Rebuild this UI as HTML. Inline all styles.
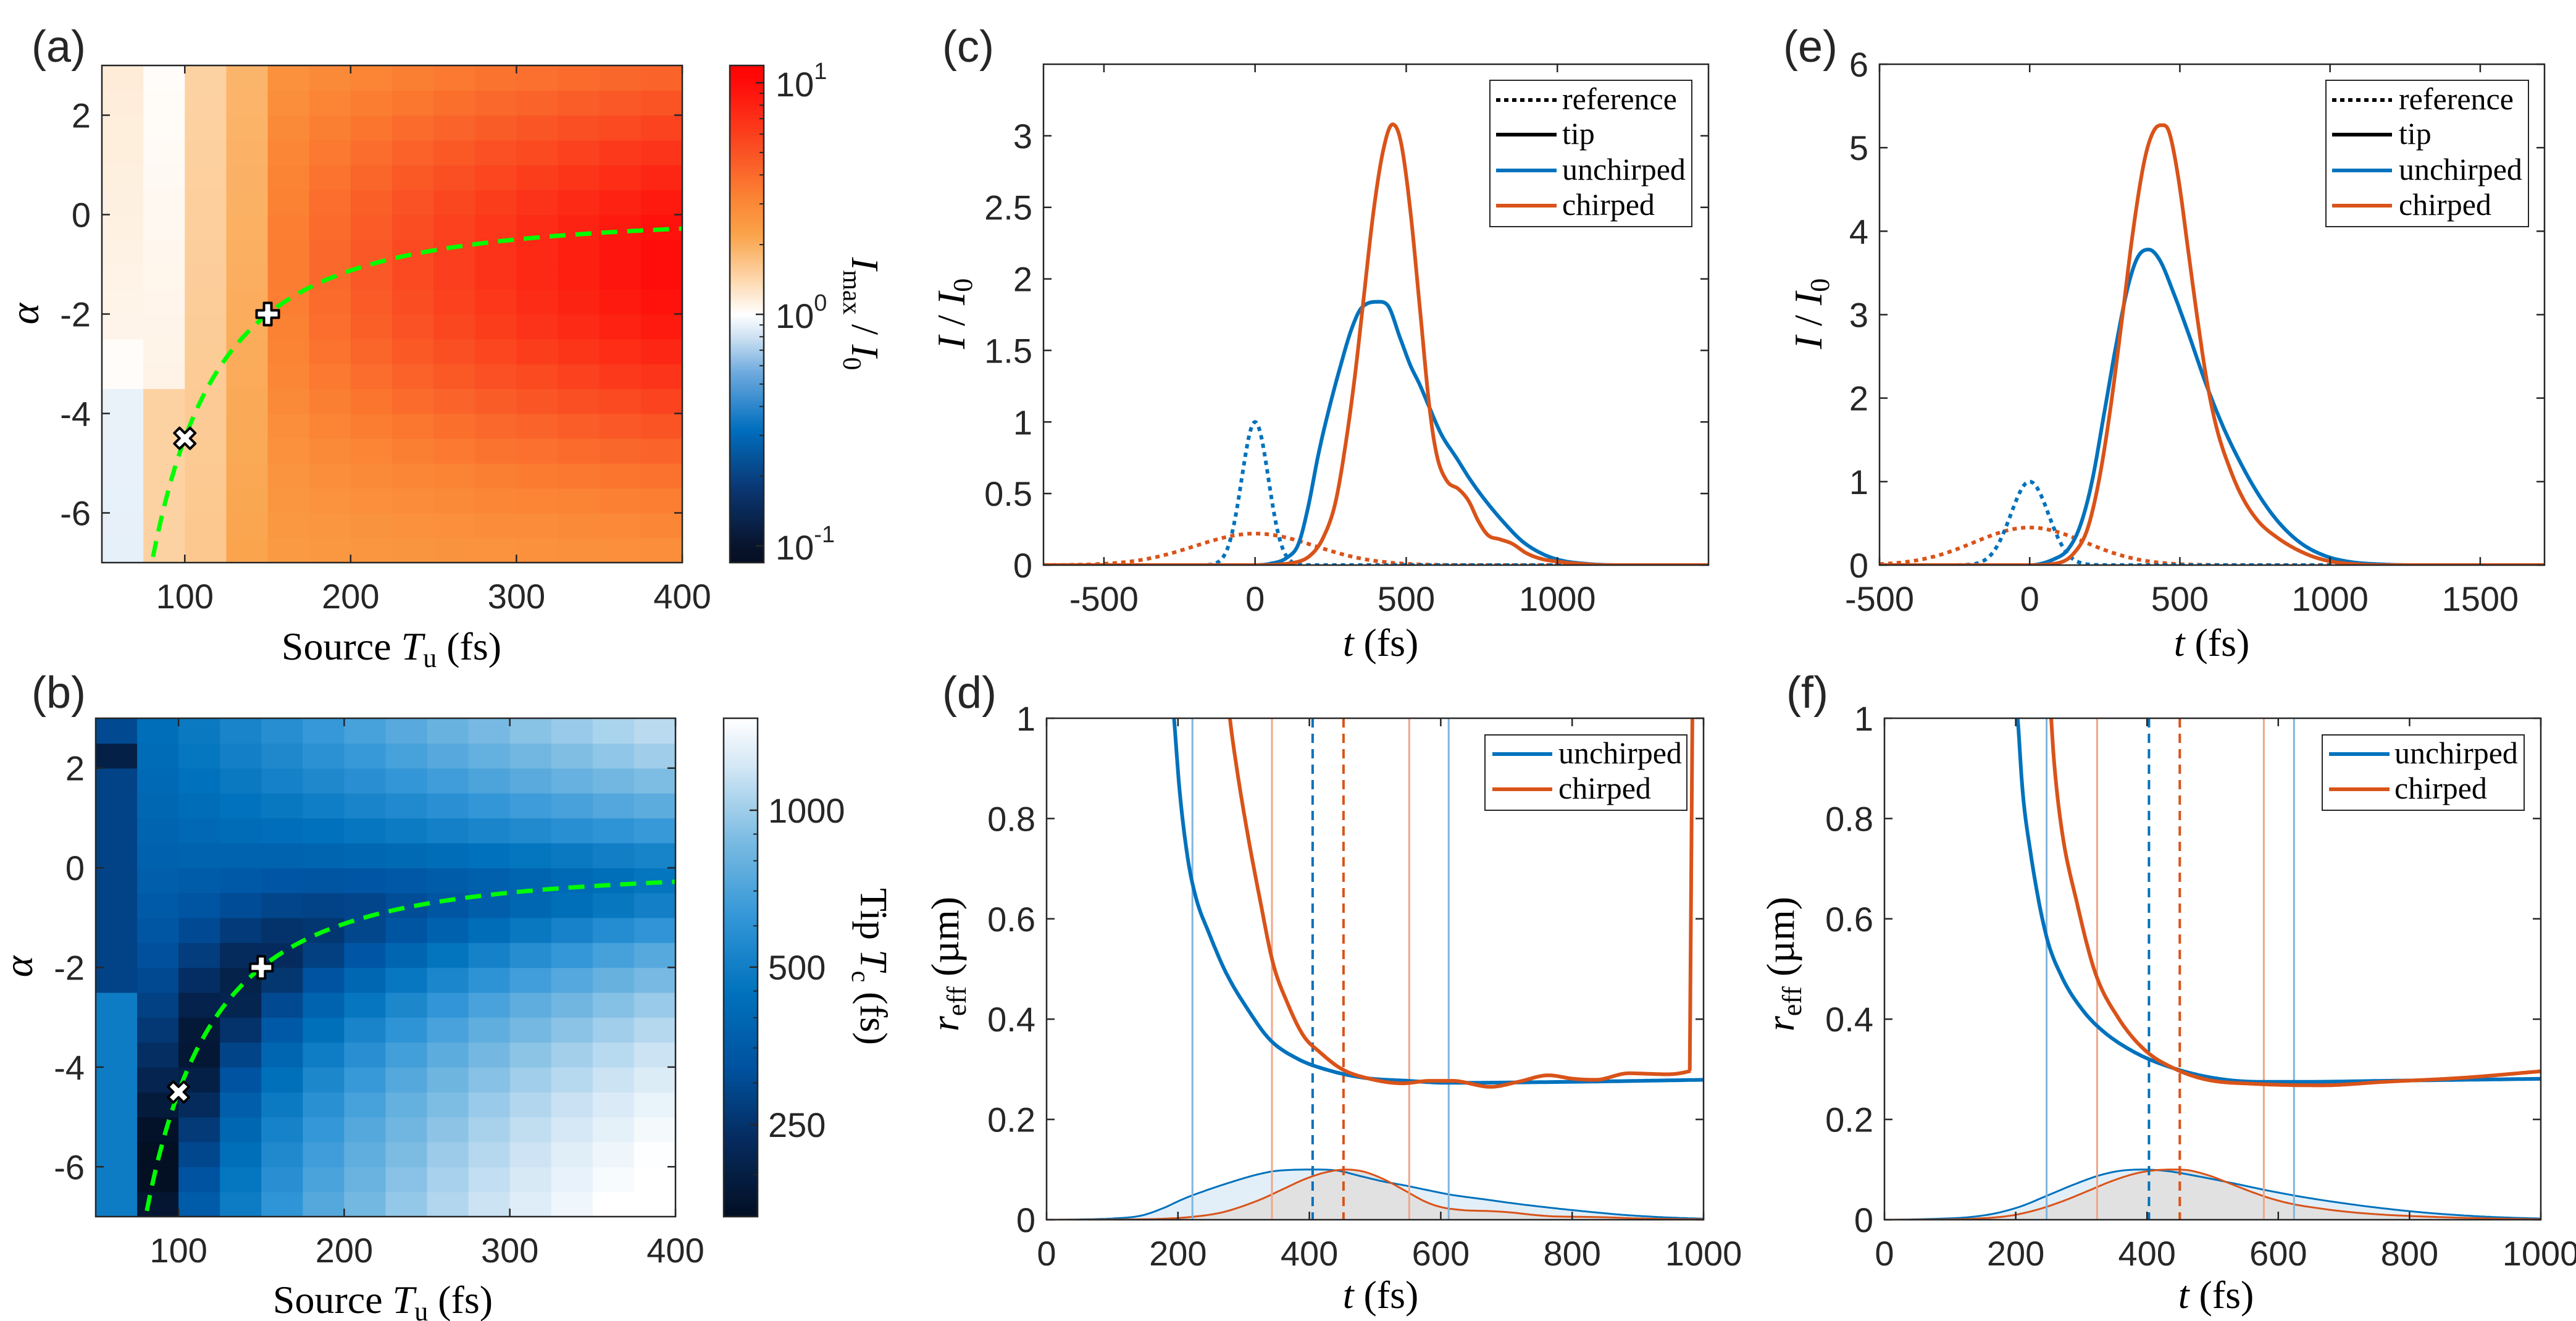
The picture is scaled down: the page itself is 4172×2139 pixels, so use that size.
<!DOCTYPE html>
<html><head><meta charset="utf-8">
<style>
html,body{margin:0;padding:0;background:#fff;}
svg{display:block;}
text{font-family:"Liberation Sans",sans-serif;fill:#262626;}
.s{font-family:"Liberation Serif",serif;fill:#000;}
</style></head>
<body>
<svg id="fig" width="4172" height="2139" viewBox="0 0 4172 2139"></svg>
<script>
var out=[];
function mono(P){var n=P.length,xs=P.map(function(p){return p[0]}),ys=P.map(function(p){return p[1]}),d=[],m=[],i;
for(i=0;i<n-1;i++)d.push((ys[i+1]-ys[i])/(xs[i+1]-xs[i]));
m[0]=d[0];m[n-1]=d[n-2];
for(i=1;i<n-1;i++){m[i]=(d[i-1]*d[i]<=0)?0:(d[i-1]+d[i])/2;}
for(i=0;i<n-1;i++){if(d[i]==0){m[i]=0;m[i+1]=0;continue;}var a=m[i]/d[i],b=m[i+1]/d[i],s=a*a+b*b;if(s>9){var t=3/Math.sqrt(s);m[i]=t*a*d[i];m[i+1]=t*b*d[i];}}
return function(t){if(t<=xs[0])return ys[0];if(t>=xs[n-1])return ys[n-1];var i=0;while(t>xs[i+1])i++;var h=xs[i+1]-xs[i],u=(t-xs[i])/h;
return (2*u*u*u-3*u*u+1)*ys[i]+(u*u*u-2*u*u+u)*h*m[i]+(-2*u*u*u+3*u*u)*ys[i+1]+(u*u*u-u*u)*h*m[i+1];};}
var cid=0;
function axes(o){o.X=function(v){return o.x0+(v-o.xmin)/(o.xmax-o.xmin)*(o.x1-o.x0)};o.Y=function(v){return o.y1-(v-o.ymin)/(o.ymax-o.ymin)*(o.y1-o.y0)};
o.cid='c'+(cid++);out.push('<clipPath id="'+o.cid+'"><rect x="'+o.x0+'" y="'+o.y0+'" width="'+(o.x1-o.x0)+'" height="'+(o.y1-o.y0)+'"/></clipPath>');return o;}
function curve(o,f,t0,t1,n,attrs){var p=[];for(var i=0;i<=n;i++){var t=t0+(t1-t0)*i/n;p.push(o.X(t).toFixed(1)+','+o.Y(f(t)).toFixed(1));}
return '<polyline clip-path="url(#'+o.cid+')" fill="none" stroke-linejoin="round" points="'+p.join(' ')+'" '+attrs+'/>';}
function area(o,f,t0,t1,n,fill){var p=[o.X(t0).toFixed(1)+','+o.Y(0)];for(var i=0;i<=n;i++){var t=t0+(t1-t0)*i/n;p.push(o.X(t).toFixed(1)+','+o.Y(f(t)).toFixed(1));}p.push(o.X(t1).toFixed(1)+','+o.Y(0));
return '<polygon clip-path="url(#'+o.cid+')" stroke="none" fill="'+fill+'" points="'+p.join(' ')+'"/>';}
function frame(o,xt,xl,yt,yl){var s='',L=13,i;
s+='<rect x="'+o.x0+'" y="'+o.y0+'" width="'+(o.x1-o.x0)+'" height="'+(o.y1-o.y0)+'" fill="none" stroke="#262626" stroke-width="2.5"/>';
for(i=0;i<xt.length;i++){var x=o.X(xt[i]);s+='<path d="M'+x+' '+o.y1+'v-'+L+'M'+x+' '+o.y0+'v'+L+'" stroke="#262626" stroke-width="2.5"/>';
if(xl[i]!=='')s+='<text x="'+x+'" y="'+(o.y1+74)+'" font-size="56" text-anchor="middle">'+xl[i]+'</text>';}
for(i=0;i<yt.length;i++){var y=o.Y(yt[i]);s+='<path d="M'+o.x0+' '+y+'h'+L+'M'+o.x1+' '+y+'h-'+L+'" stroke="#262626" stroke-width="2.5"/>';
if(yl[i]!=='')s+='<text x="'+(o.x0-18)+'" y="'+(y+20)+'" font-size="56" text-anchor="end">'+yl[i]+'</text>';}
return s;}
function lerpc(stops,p){if(p<=stops[0][0]){var c0=stops[0][1];return 'rgb('+c0[0]+','+c0[1]+','+c0[2]+')';}for(var i=0;i<stops.length-1;i++){if(p<=stops[i+1][0]){var u=(p-stops[i][0])/(stops[i+1][0]-stops[i][0]),a=stops[i][1],b=stops[i+1][1];
return 'rgb('+Math.round(a[0]+(b[0]-a[0])*u)+','+Math.round(a[1]+(b[1]-a[1])*u)+','+Math.round(a[2]+(b[2]-a[2])*u)+')';}}var c=stops[stops.length-1][1];return 'rgb('+c[0]+','+c[1]+','+c[2]+')';}
var cmA=[[-1.1,[5,12,30]],[-1,[8,20,45]],[-0.75,[10,55,115]],[-0.5,[0,110,190]],[-0.25,[110,170,222]],[-0.1,[205,225,242]],[0,[255,255,255]],[0.15,[253,215,172]],[0.35,[250,162,72]],[0.5,[251,132,52]],[0.7,[250,82,36]],[1.0,[255,12,10]],[1.1,[255,0,0]]];
var cmB=[[0,[3,15,35]],[0.15,[5,42,92]],[0.3,[0,82,160]],[0.45,[0,114,189]],[0.6,[50,150,215]],[0.75,[120,186,226]],[0.9,[210,230,245]],[1,[255,255,255]]];
// ---------- panel A ----------
var A=axes({x0:165,x1:1105,y0:106,y1:911,xmin:50,xmax:400,ymin:-7,ymax:3});
function logvA(c,r){var a=-7+(r+0.5)*0.5,Tu=62.5+25*c;
 if(c==0){if(a>-2.5)return 0.07-(2.75-a)*0.006; if(a>-3.5)return 0.01; return -0.05+(a+7)*0.002;}
 if(c==1){if(a>-3.5)return 0.01+(2.75-a)*0.006; return 0.17;}
 if(c==2)return 0.17+(2.75-a)*0.004;
 if(c==3)return 0.28+(2.75-a)*0.006;
 var s=Math.pow(Math.min(1,(c-3)/10),0.6),h=Math.exp(-Math.pow((a+1)/4,2));return 0.37+0.63*s*h;}
var s='';
for(var c=0;c<14;c++)for(var r=0;r<20;r++){var x=A.X(50+25*c),y=A.Y(-7+0.5*(r+1));
 s+='<rect x="'+x.toFixed(1)+'" y="'+y.toFixed(1)+'" width="'+(A.X(75)-A.X(50)+0.8).toFixed(1)+'" height="'+(A.Y(0)-A.Y(0.5)+0.8).toFixed(1)+'" fill="'+lerpc(cmA,logvA(c,r))+'"/>';}
out.push(s);
function green(o){return curve(o,function(t){return -45000/(t*t)},78,400,200,'stroke="#00ff00" stroke-width="7" stroke-dasharray="26 16"');}
out.push(green(A));
function plus(x,y){return '<path d="M'+(x-6)+' '+(y-18)+'h12v12h12v12h-12v12h-12v-12h-12v-12h12z" fill="#fff" stroke="#000" stroke-width="4" stroke-linejoin="round"/>';}
function cross(x,y){return '<g transform="translate('+x+','+y+') rotate(45)"><path d="M-6 -18h12v12h12v12h-12v12h-12v-12h-12v-12h12z" fill="#fff" stroke="#000" stroke-width="4" stroke-linejoin="round"/></g>';}
out.push(plus(A.X(150),A.Y(-2)),cross(A.X(100),A.Y(-4.5)));
out.push(frame(A,[100,200,300,400],['100','200','300','400'],[-6,-4,-2,0,2],['-6','-4','-2','0','2']));
s='';for(var i=0;i<200;i++){var y0=106+(911-106)*i/200,y1=y0+(911-106)/200+1,L=(509-(y0+2))/375;s+='<rect x="1182" y="'+y0.toFixed(1)+'" width="55" height="'+(y1-y0).toFixed(1)+'" fill="'+lerpc(cmA,L)+'"/>';}
s+='<rect x="1182" y="106" width="55" height="805" fill="none" stroke="#262626" stroke-width="2.5"/>';
[[134,1],[509,0],[884,-1]].forEach(function(t){s+='<path d="M1237 '+t[0]+'h-13" stroke="#262626" stroke-width="2.5"/><text x="1256" y="'+(t[0]+22)+'" font-size="56">10<tspan font-size="38" dy="-28">'+t[1]+'</tspan></text>';});
[2,3,4,5,6,7,8,9].forEach(function(m){var l=Math.log10(m);[0,-1].forEach(function(d){var y=509-375*(d+l);if(y>108)s+='<path d="M1237 '+y.toFixed(1)+'h-7" stroke="#262626" stroke-width="2"/>';});});
s+='<text class="s" transform="translate(1380,508) rotate(90)" font-size="62" text-anchor="middle"><tspan font-style="italic">I</tspan><tspan font-size="42" dy="14">max</tspan><tspan dy="-14"> / </tspan><tspan font-style="italic">I</tspan><tspan font-size="42" dy="14">0</tspan></text>';
out.push(s);
out.push('<text x="51" y="100" font-size="72">(a)</text>');
out.push('<text class="s" x="634" y="1068" font-size="64" text-anchor="middle">Source <tspan font-style="italic">T</tspan><tspan font-size="44" dy="12">u</tspan><tspan dy="-12"> (fs)</tspan></text>');
out.push('<text class="s" transform="translate(62,508) rotate(-90)" font-size="66" font-style="italic" text-anchor="middle">α</text>');
// ---------- panel B ----------
var B=axes({x0:155,x1:1094,y0:1163,y1:1970,xmin:50,xmax:400,ymin:-7,ymax:3});
function TB(c,r){var a=-7+(r+0.5)*0.5,Tu=62.5+25*c;
 if(c==0){if(a>2.5)return 300;if(a>2)return 205;if(a>-2.5)return 285;return 490;}
 var cur=-45000/(Tu*Tu),d=a-cur,de=d/(1+Math.abs(d)/6),Tb=170+(Tu-100)*1.0;if(Tb<160)Tb=160;
 var k=1.28*de*Tu;return Math.sqrt(Tb*Tb+k*k);}
s='';var lb0=Math.log10(166),lb1=Math.log10(1502);
for(var c=0;c<14;c++)for(var r=0;r<20;r++){var x=B.X(50+25*c),y=B.Y(-7+0.5*(r+1));var p=(Math.log10(TB(c,r))-lb0)/(lb1-lb0);
 s+='<rect x="'+x.toFixed(1)+'" y="'+y.toFixed(1)+'" width="'+(B.X(75)-B.X(50)+0.8).toFixed(1)+'" height="'+(B.Y(0)-B.Y(0.5)+0.8).toFixed(1)+'" fill="'+lerpc(cmB,p)+'"/>';}
out.push(s);
out.push(green(B));
out.push(plus(B.X(150),B.Y(-2)),cross(B.X(100),B.Y(-4.5)));
out.push(frame(B,[100,200,300,400],['100','200','300','400'],[-6,-4,-2,0,2],['-6','-4','-2','0','2']));
s='';for(var i=0;i<200;i++){var y0=1163+(1970-1163)*i/200,y1=y0+(1970-1163)/200+1,L=3+(1312-(y0+2))/844;s+='<rect x="1172" y="'+y0.toFixed(1)+'" width="55" height="'+(y1-y0).toFixed(1)+'" fill="'+lerpc(cmB,(L-lb0)/(lb1-lb0))+'"/>';}
s+='<rect x="1172" y="1163" width="55" height="807" fill="none" stroke="#262626" stroke-width="2.5"/>';
[[1312,'1000'],[1566,'500'],[1821,'250']].forEach(function(t){s+='<path d="M1227 '+t[0]+'h-13" stroke="#262626" stroke-width="2.5"/><text x="1244" y="'+(t[0]+20)+'" font-size="56">'+t[1]+'</text>';});
[300,350,400,450,600,700,800,900,200].forEach(function(v){var y=1312-844*(Math.log10(v)-3);s+='<path d="M1227 '+y.toFixed(1)+'h-7" stroke="#262626" stroke-width="2"/>';});
s+='<text class="s" transform="translate(1394,1565) rotate(90)" font-size="62" text-anchor="middle">Tip <tspan font-style="italic">T</tspan><tspan font-size="42" dy="14">c</tspan><tspan dy="-14"> (fs)</tspan></text>';
out.push(s);
out.push('<text x="51" y="1146" font-size="72">(b)</text>');
out.push('<text class="s" x="620" y="2126" font-size="64" text-anchor="middle">Source <tspan font-style="italic">T</tspan><tspan font-size="44" dy="12">u</tspan><tspan dy="-12"> (fs)</tspan></text>');
out.push('<text class="s" transform="translate(52,1565) rotate(-90)" font-size="66" font-style="italic" text-anchor="middle">α</text>');
// ---------- data ----------
var BL='#0072BD',OR='#D95319';
var cU=mono([[-700,0],[0,0],[50,0.01],[104,0.05],[144,0.15],[176,0.41],[209,0.77],[241,1.06],[281,1.38],[321,1.66],[353,1.80],[409,1.84],[437,1.82],[481,1.58],[513,1.40],[545,1.26],[577,1.10],[617,0.91],[666,0.75],[714,0.59],[770,0.43],[818,0.31],[882,0.17],[946,0.083],[1010,0.034],[1091,0.01],[1203,0],[1500,0]]);
var cC=mono([[-700,0],[0,0],[120,0.014],[184,0.07],[225,0.19],[265,0.43],[297,0.81],[329,1.30],[361,1.90],[393,2.49],[425,2.91],[455,3.08],[481,2.97],[513,2.49],[545,1.80],[577,1.10],[601,0.77],[634,0.59],[674,0.53],[706,0.45],[738,0.31],[770,0.21],[810,0.18],[850,0.15],[898,0.083],[946,0.044],[1002,0.024],[1083,0.008],[1163,0],[1500,0]]);
var eU=mono([[-500,0],[0,0],[80,0.07],[128,0.19],[168,0.47],[208,1.01],[248,1.82],[288,2.64],[328,3.35],[360,3.69],[396,3.78],[432,3.66],[480,3.25],[528,2.78],[584,2.20],[640,1.69],[704,1.21],[768,0.81],[832,0.50],[904,0.26],[984,0.11],[1064,0.04],[1184,0.007],[1300,0],[1720,0]]);
var eC=mono([[-500,0],[0,0],[88,0.02],[144,0.13],[192,0.43],[232,1.04],[272,1.96],[312,3.08],[344,4.0],[384,4.88],[416,5.22],[442,5.27],[464,5.19],[496,4.61],[528,3.76],[560,2.91],[592,2.16],[624,1.62],[664,1.18],[704,0.84],[760,0.53],[824,0.33],[904,0.16],[984,0.058],[1104,0.007],[1200,0],[1720,0]]);
function g(A0,s){return function(t){return A0*Math.exp(-t*t/(2*s*s))};}
function legend4(x0,y0,w,h,rows,lx0,lx1,tx){var s='<rect x="'+x0+'" y="'+y0+'" width="'+w+'" height="'+h+'" fill="#fff" stroke="#262626" stroke-width="2"/>';
 var items=[['reference','#000','7 6'],['tip','#000',''],['unchirped',BL,''],['chirped',OR,'']];
 for(var i=0;i<4;i++){var y=rows[i];s+='<path d="M'+lx0+' '+y+'H'+lx1+'" stroke="'+items[i][1]+'" stroke-width="6"'+(items[i][2]?' stroke-dasharray="'+items[i][2]+'"':'')+'/>';
 s+='<text class="s" x="'+tx+'" y="'+(y+15)+'" font-size="50">'+items[i][0]+'</text>';}return s;}
function legend2(x0,y0,w,h,rows,lx0,lx1,tx){var s='<rect x="'+x0+'" y="'+y0+'" width="'+w+'" height="'+h+'" fill="#fff" stroke="#262626" stroke-width="2"/>';
 var items=[['unchirped',BL],['chirped',OR]];
 for(var i=0;i<2;i++){var y=rows[i];s+='<path d="M'+lx0+' '+y+'H'+lx1+'" stroke="'+items[i][1]+'" stroke-width="6"/><text class="s" x="'+tx+'" y="'+(y+15)+'" font-size="50">'+items[i][0]+'</text>';}return s;}
function Ilabel(x,y){return '<text class="s" transform="translate('+x+','+y+') rotate(-90)" font-size="64" text-anchor="middle"><tspan font-style="italic">I</tspan> / <tspan font-style="italic">I</tspan><tspan font-size="44" dy="12">0</tspan></text>';}
function Rlabel(x,y){return '<text class="s" transform="translate('+x+','+y+') rotate(-90)" font-size="64" text-anchor="middle"><tspan font-style="italic">r</tspan><tspan font-size="44" dy="12">eff</tspan><tspan dy="-12"> (µm)</tspan></text>';}
function tlabel(x,y){return '<text class="s" x="'+x+'" y="'+y+'" font-size="64" text-anchor="middle"><tspan font-style="italic">t</tspan> (fs)</text>';}
// ---------- panel C ----------
var C=axes({x0:1690,x1:2767,y0:104,y1:915,xmin:-700,xmax:1500,ymin:0,ymax:3.5});
out.push(curve(C,g(0.22,198),-700,1500,300,'stroke="'+OR+'" stroke-width="6" stroke-dasharray="7 7"'));
out.push(curve(C,g(1,44),-700,1500,600,'stroke="'+BL+'" stroke-width="6" stroke-dasharray="7 7"'));
out.push(curve(C,cU,-700,1500,600,'stroke="'+BL+'" stroke-width="6"'));
out.push(curve(C,cC,-700,1500,600,'stroke="'+OR+'" stroke-width="6"'));
out.push(frame(C,[-500,0,500,1000],['-500','0','500','1000'],[0,0.5,1,1.5,2,2.5,3],['0','0.5','1','1.5','2','2.5','3']));
out.push(legend4(2413,130,327,237,[162,218,276,333],2423,2521,2530));
out.push('<text x="1526" y="100" font-size="72">(c)</text>',Ilabel(1562,508),tlabel(2236,1062));
// ---------- panel E ----------
var E=axes({x0:3044,x1:4121,y0:104,y1:915,xmin:-500,xmax:1714,ymin:0,ymax:6});
out.push(curve(E,g(0.45,185),-500,1714,300,'stroke="'+OR+'" stroke-width="6" stroke-dasharray="7 7"'));
out.push(curve(E,g(1,63),-500,1714,600,'stroke="'+BL+'" stroke-width="6" stroke-dasharray="7 7"'));
out.push(curve(E,eU,-500,1714,600,'stroke="'+BL+'" stroke-width="6"'));
out.push(curve(E,eC,-500,1714,600,'stroke="'+OR+'" stroke-width="6"'));
out.push(frame(E,[-500,0,500,1000,1500],['-500','0','500','1000','1500'],[0,1,2,3,4,5,6],['0','1','2','3','4','5','6']));
out.push(legend4(3767,130,328,237,[162,218,276,333],3777,3874,3885));
out.push('<text x="2888" y="100" font-size="72">(e)</text>',Ilabel(2950,508),tlabel(3582,1062));
// ---------- panel D ----------
var D=axes({x0:1695,x1:2759,y0:1163,y1:1975,xmin:0,xmax:1000,ymin:0,ymax:1});
function env(o,fu,fc,pu,pc,vl){var s='';
 s+=area(o,function(t){return fu(t)/pu*0.1},0,1000,300,'#e3eff8');
 s+=area(o,function(t){return fc(t)/pc*0.1},0,1000,300,'#e2e1e1');
 s+=curve(o,function(t){return fu(t)/pu*0.1},0,1000,300,'stroke="'+BL+'" stroke-width="3"');
 s+=curve(o,function(t){return fc(t)/pc*0.1},0,1000,300,'stroke="'+OR+'" stroke-width="3"');
 vl.forEach(function(v){var x=o.X(v[0]);s+='<path d="M'+x.toFixed(1)+' '+o.y0+'V'+o.y1+'" stroke="'+v[1]+'" stroke-width="'+v[2]+'"'+(v[3]?' stroke-dasharray="'+v[3]+'"':'')+'/>';});
 return s;}
out.push(env(D,cU,cC,1.84,3.08,[[222,'#80b5dd',3],[612,'#80b5dd',3],[343,'#eea78a',3],[552,'#eea78a',3],[405,BL,4,'15 10'],[452,OR,4,'15 10']]));
var dU=mono([[150,1.6],[194,1.0],[202,0.862],[215,0.72],[227,0.644],[248,0.569],[273,0.493],[307,0.418],[340,0.359],[382,0.321],[424,0.300],[483,0.283],[550,0.277],[609,0.273],[800,0.275],[1000,0.279]]);
var dC=mono([[260,1.25],[279,1.0],[290,0.896],[307,0.762],[324,0.644],[345,0.51],[366,0.434],[391,0.367],[416,0.334],[450,0.300],[492,0.281],[542,0.272],[584,0.277],[617,0.277],[676,0.265],[718,0.275],[764,0.288],[802,0.281],[836,0.279],[886,0.292],[945,0.290],[978,0.296],[980,0.297]]);
out.push(curve(D,dU,150,1000,500,'stroke="'+BL+'" stroke-width="6"'));
out.push(curve(D,dC,260,980,500,'stroke="'+OR+'" stroke-width="6"'));
out.push('<path d="M'+D.X(979).toFixed(1)+' '+D.Y(0.297).toFixed(1)+'L'+D.X(983).toFixed(1)+' '+D.y0+'" stroke="'+OR+'" stroke-width="6" fill="none"/>');
out.push(frame(D,[0,200,400,600,800,1000],['0','200','400','600','800','1000'],[0,0.2,0.4,0.6,0.8,1],['0','0.2','0.4','0.6','0.8','1']));
out.push(legend2(2405,1190,327,122,[1221,1278],2417,2514,2524));
out.push('<text x="1526" y="1146" font-size="72">(d)</text>',Rlabel(1552,1561),tlabel(2236,2118));
// ---------- panel F ----------
var F=axes({x0:3052,x1:4115,y0:1163,y1:1975,xmin:0,xmax:1000,ymin:0,ymax:1});
out.push(env(F,eU,eC,3.78,5.27,[[247,'#80b5dd',3],[624,'#80b5dd',3],[324,'#eea78a',3],[578,'#eea78a',3],[403,BL,4,'15 10'],[450,OR,4,'15 10']]));
var fU=mono([[160,1.6],[203,1.0],[210,0.862],[222,0.737],[246,0.569],[270,0.485],[302,0.418],[333,0.376],[381,0.334],[436,0.304],[500,0.283],[571,0.275],[643,0.275],[762,0.277],[1000,0.281]]);
var fC=mono([[245,1.2],[254,1.0],[258,0.92],[270,0.779],[294,0.628],[321,0.493],[357,0.401],[397,0.338],[444,0.300],[492,0.279],[563,0.271],[666,0.268],[762,0.275],[881,0.283],[1000,0.296]]);
out.push(curve(F,fU,160,1000,500,'stroke="'+BL+'" stroke-width="6"'));
out.push(curve(F,fC,245,1000,500,'stroke="'+OR+'" stroke-width="6"'));
out.push(frame(F,[0,200,400,600,800,1000],['0','200','400','600','800','1000'],[0,0.2,0.4,0.6,0.8,1],['0','0.2','0.4','0.6','0.8','1']));
out.push(legend2(3761,1190,327,122,[1221,1278],3772,3870,3878));
out.push('<text x="2893" y="1146" font-size="72">(f)</text>',Rlabel(2905,1561),tlabel(3589,2118));
document.getElementById('fig').innerHTML=out.join('');
</script>
</body></html>
